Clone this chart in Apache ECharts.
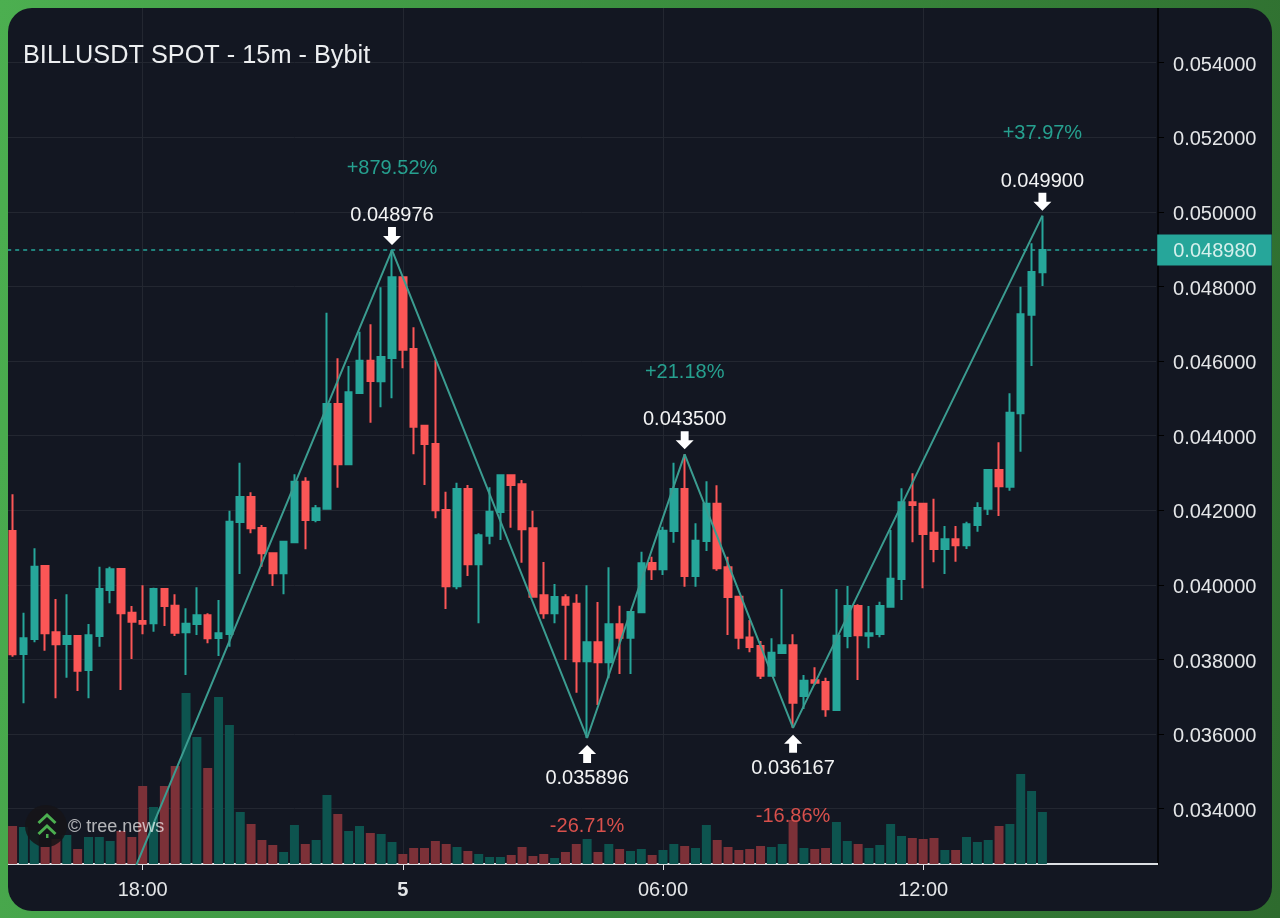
<!DOCTYPE html>
<html><head><meta charset="utf-8">
<style>
html,body{margin:0;padding:0;width:1280px;height:918px;overflow:hidden;background:linear-gradient(100deg,#4caf50 0%,#3b8f3f 45%,#2e6b2e 100%);}
#panel{position:absolute;left:8px;top:8px;width:1264px;height:903px;border-radius:24px;overflow:hidden;background:#131722;}
#main{position:absolute;left:-8px;top:-8px;width:1280px;height:918px;}
</style>
<script src="https://cdn.jsdelivr.net/npm/echarts@6/dist/echarts.min.js"></script>
</head><body>
<div id="panel"><div id="main"></div></div>
<script>
const FONT = '"Liberation Sans", Arial, sans-serif';
const title = 'BILLUSDT SPOT - 15m - Bybit';
const yTicks = [0.034,0.036,0.038,0.040,0.042,0.044,0.046,0.048,0.050,0.052,0.054];
const lastPrice = 0.04898;

const opens = [0.041445,0.038147,0.038549,0.040507,0.038729,0.038415,0.03863,0.037718,0.03863,0.039863,0.040426,0.039255,0.039032,0.03897,0.03989,0.039442,0.038729,0.038952,0.039185,0.038576,0.038683,0.041686,0.042356,0.041525,0.040847,0.040311,0.041142,0.042767,0.04174,0.042043,0.04485,0.043233,0.045145,0.046011,0.045458,0.046083,0.048247,0.046324,0.044268,0.043777,0.042008,0.039962,0.042571,0.040552,0.041319,0.041954,0.042938,0.042697,0.041517,0.039721,0.039238,0.039667,0.039496,0.037952,0.038461,0.037925,0.038943,0.038584,0.039265,0.040587,0.040418,0.041445,0.042571,0.040238,0.041177,0.042177,0.040472,0.039683,0.038592,0.038362,0.037565,0.038174,0.03838,0.037021,0.037442,0.037397,0.036646,0.03863,0.039434,0.038638,0.038683,0.039415,0.040158,0.042214,0.042177,0.041399,0.040962,0.041222,0.041061,0.041606,0.042043,0.04308,0.042633,0.0446,0.047244,0.048381];
const closes = [0.038139,0.038568,0.040488,0.038702,0.038407,0.03863,0.0377,0.038649,0.03989,0.040418,0.039238,0.039013,0.03896,0.03989,0.039434,0.038718,0.03896,0.039185,0.038568,0.038702,0.041694,0.042356,0.041517,0.040847,0.040311,0.041158,0.042767,0.04174,0.042053,0.04485,0.043233,0.045163,0.046011,0.045466,0.04611,0.048247,0.046306,0.044241,0.043777,0.042,0.039962,0.042571,0.040552,0.04133,0.041962,0.042938,0.042678,0.04149,0.039683,0.039238,0.039675,0.039469,0.037952,0.038461,0.037925,0.038943,0.038584,0.039273,0.040579,0.040418,0.041453,0.042571,0.040238,0.041185,0.042177,0.040445,0.039675,0.038584,0.038335,0.037565,0.038182,0.03838,0.036842,0.037431,0.037378,0.036665,0.038638,0.039434,0.038649,0.038702,0.039434,0.040166,0.042214,0.042142,0.041364,0.040962,0.041222,0.041061,0.041625,0.042062,0.04308,0.042643,0.044616,0.047255,0.048389,0.04898];
const lows = [0.038075,0.036826,0.038461,0.038236,0.03696,0.037512,0.037155,0.03696,0.038343,0.039507,0.037182,0.038013,0.038675,0.038745,0.038898,0.03863,0.037584,0.038657,0.038434,0.038094,0.038343,0.040292,0.041383,0.040488,0.03997,0.039748,0.041115,0.040954,0.041678,0.042043,0.042606,0.043233,0.045145,0.044348,0.044761,0.045003,0.045807,0.043501,0.042678,0.041785,0.039354,0.039882,0.040238,0.03897,0.041088,0.041204,0.041533,0.040595,0.039667,0.039094,0.03897,0.037986,0.03711,0.035896,0.03678,0.037496,0.037611,0.037611,0.039265,0.040131,0.040265,0.041131,0.039952,0.039952,0.040909,0.040381,0.038657,0.038273,0.038193,0.037477,0.037565,0.038174,0.036167,0.036673,0.037316,0.036466,0.036619,0.038304,0.03745,0.038304,0.038595,0.039415,0.039595,0.041142,0.039909,0.040606,0.040292,0.040622,0.040962,0.041426,0.041874,0.041847,0.042525,0.043571,0.045869,0.048013];
const highs = [0.042429,0.039255,0.040981,0.040507,0.039622,0.039748,0.03863,0.038952,0.040488,0.040488,0.040445,0.039434,0.039989,0.039925,0.039909,0.039748,0.039373,0.039935,0.039238,0.039595,0.041989,0.043276,0.042482,0.041606,0.040847,0.041177,0.042965,0.042885,0.042142,0.047298,0.046075,0.045869,0.046788,0.046987,0.047979,0.048976,0.048247,0.046906,0.044268,0.046029,0.042499,0.04274,0.042678,0.041383,0.042616,0.042946,0.042965,0.042812,0.041989,0.040614,0.040024,0.039748,0.039748,0.039989,0.039541,0.040472,0.039442,0.039281,0.04089,0.040756,0.04156,0.043276,0.0435,0.041651,0.042777,0.04267,0.040756,0.039683,0.039059,0.038496,0.038568,0.03989,0.038675,0.037584,0.037789,0.037512,0.03989,0.03997,0.03948,0.039434,0.039549,0.041472,0.04259,0.042992,0.042204,0.042311,0.041579,0.041579,0.041694,0.042214,0.04308,0.043823,0.045137,0.047994,0.049158,0.0499];
const volumes = [38,37,34,17,25,29,15,27,27,23,33,27,78,57,78,98,171,127,96,167,139,52,40,24,19,12,39,20,24,69,50,33,38,31,30,22,10,16,16,23,20,17,13,10,7,7,9,17,8,10,6,12,20,25,12,20,15,13,15,9,14,20,18,16,39,24,17,14,15,18,17,20,44,16,15,16,42,23,20,16,19,40,28,26,25,26,14,14,27,22,24,38,40,90,73,52];

// Zigzag pivots: the first one is the line's entry from below the visible range.
const pivotIdx = [11,35,53,62,72,95];
const pivotVal = [0.0322,0.048976,0.035896,0.0435,0.036167,0.0499];
const markIdx = [35,53,62,72,95];
const markVal = [0.048976,0.035896,0.0435,0.036167,0.0499];
const markDir = ['down','up','down','up','down'];
const markPct = ['+879.52%','-26.71%','+21.18%','-16.86%','+37.97%'];

const BANDS = 106;
const categories = [];
for (let i=0;i<BANDS;i++){
  const m = (15*60 + 15*i) % 1440;
  categories.push(String(Math.floor(m/60)).padStart(2,'0')+':'+String(m%60).padStart(2,'0'));
}
const shownTicks = ['18:00','00:00','06:00','12:00'];
const firstDay = i => i>=12 && i<=84 && shownTicks.includes(categories[i]);

const UP='#26a69a', DOWN='#fb5656', VUP='#0d544f', VDOWN='#7c3138', TXT='#e4e6e8';
const candleData = opens.map((o,i)=>[o,closes[i],lows[i],highs[i]]);
const volData = volumes.map((v,i)=>({value:v,itemStyle:{color:closes[i]>=opens[i]?VUP:VDOWN}}));
const zigzag = categories.map(()=>null);
pivotIdx.forEach((ix,k)=>{zigzag[ix]=pivotVal[k];});

const ARROW_UP='path://M8,0 L16,9 L11.5,9 L11.5,18 L4.5,18 L4.5,9 L0,9 Z';
const ARROW_DOWN='path://M8,18 L16,9 L11.5,9 L11.5,0 L4.5,0 L4.5,9 L0,9 Z';

const option={
  animation:false,
  textStyle:{fontFamily:FONT},
  grid:{left:7.18,top:8,width:1149.04,height:856},
  xAxis:{type:'category',data:categories,boundaryGap:true,
    axisLine:{show:true,onZero:false,lineStyle:{color:'#dcdfe3',width:2}},
    axisTick:{show:true,alignWithLabel:true,length:6,interval:firstDay,lineStyle:{color:'#dcdfe3',width:1}},
    splitLine:{show:true,alignWithLabel:true,interval:firstDay,lineStyle:{color:'#232731',width:1}},
    axisLabel:{show:true,interval:firstDay,margin:16,fontSize:20,fontFamily:FONT,color:TXT,
      formatter:v=>v==='00:00'?'{b|5}':v,
      rich:{b:{fontWeight:'bold',fontSize:20,fontFamily:FONT,color:TXT}}}
  },
  yAxis:[
    {type:'value',position:'right',offset:1.8,min:0.032517,max:0.055467,scale:true,
      axisLine:{show:true,onZero:false,lineStyle:{color:'#000',width:1.5}},
      axisTick:{show:true,length:6,customValues:yTicks,lineStyle:{color:'#000',width:1}},
      splitLine:{show:true,lineStyle:{color:'#232731',width:1}},
      axisLabel:{show:true,customValues:yTicks,margin:15,align:'left',
        formatter:v=>'{p|'+Number(v).toFixed(6)+'}',
        rich:{p:{fontSize:20,fontFamily:FONT,color:TXT,padding:[5,0,0,0]}}}
    },
    {type:'value',show:false,min:0,max:856,splitLine:{show:false}}
  ],
  series:[
    {type:'bar',name:'Volume',yAxisIndex:1,data:volData,barWidth:9,z:1,silent:true},
    {type:'candlestick',name:'Price',data:candleData,barWidth:7,z:2,silent:true,
      itemStyle:{color:UP,color0:DOWN,borderColor:UP,borderColor0:DOWN,borderWidth:2},
      markLine:{silent:true,symbol:['none','none'],animation:false,precision:6,
        lineStyle:{color:UP,type:[4,4],width:1.5},
        label:{position:'end',distance:1,formatter:'{p|'+lastPrice.toFixed(6)+'}',
          backgroundColor:UP,padding:[5,15,4,16],
          rich:{p:{color:'#d5f0ec',fontSize:20,fontFamily:FONT,lineHeight:22,padding:[3,0,0,0]}}},
        data:[{yAxis:lastPrice}]}
    },
    {type:'line',name:'Zigzag',data:zigzag,connectNulls:true,showSymbol:false,symbol:'none',z:3,silent:true,
      clip:true,lineStyle:{color:'#3b9c90',width:2}},
    {type:'scatter',name:'Arrows',z:4,silent:true,symbolSize:[18,18],
      data:markIdx.map((ix,k)=>({value:[ix,markVal[k]],
        symbol:markDir[k]==='up'?ARROW_UP:ARROW_DOWN,
        symbolOffset:[0,markDir[k]==='up'?16:-14],itemStyle:{color:'#fff',opacity:1}}))},
    {type:'scatter',name:'Pivot values',z:5,silent:true,symbolSize:1,itemStyle:{color:'rgba(0,0,0,0)',opacity:1},
      data:markIdx.map((ix,k)=>({value:[ix,markVal[k]],
        label:{show:true,position:'inside',formatter:markVal[k].toFixed(6),fontSize:20,fontFamily:FONT,color:'#f2f3f4',
          offset:[0,markDir[k]==='up'?41:-34.5]}}))},
    {type:'scatter',name:'Pivot percents',z:5,silent:true,symbolSize:1,itemStyle:{color:'rgba(0,0,0,0)',opacity:1},
      data:markIdx.map((ix,k)=>({value:[ix,markVal[k]],
        label:{show:true,position:'inside',formatter:markPct[k],fontSize:20,fontFamily:FONT,
          color:markDir[k]==='up'?'#d8504c':'#26a08f',
          offset:[0,markDir[k]==='up'?89:-82]}}))}
  ],
  graphic:[
    {type:'text',left:23,top:44,z:10,silent:true,style:{text:title,fontSize:25.3,fontFamily:FONT,fill:'#eceef0'}},
    {type:'rect',z:10,silent:true,shape:{x:1155,y:863,width:3,height:2},style:{fill:'#dcdfe3'}},
    {type:'circle',z:10,silent:true,shape:{cx:46,cy:826,r:21},style:{fill:'rgba(22,20,24,0.88)'}},
    {type:'polyline',z:11,silent:true,shape:{points:[[38.5,823],[47,815],[55.5,823]]},style:{stroke:'#4caf50',fill:'none',lineWidth:3}},
    {type:'polyline',z:11,silent:true,shape:{points:[[38.5,834],[47,826],[55.5,834]]},style:{stroke:'#4caf50',fill:'none',lineWidth:3}},
    {type:'rect',z:11,silent:true,shape:{x:46,y:834,width:2.5,height:4},style:{fill:'#4caf50'}},
    {type:'text',left:68,top:818,z:11,silent:true,style:{text:'\u00a9 tree.news',fontSize:18,fontFamily:FONT,fill:'rgba(255,255,255,0.68)'}}
  ]
};
const chart=echarts.init(document.getElementById('main'),null,{renderer:'canvas'});
chart.setOption(option);
</script>
</body></html>
